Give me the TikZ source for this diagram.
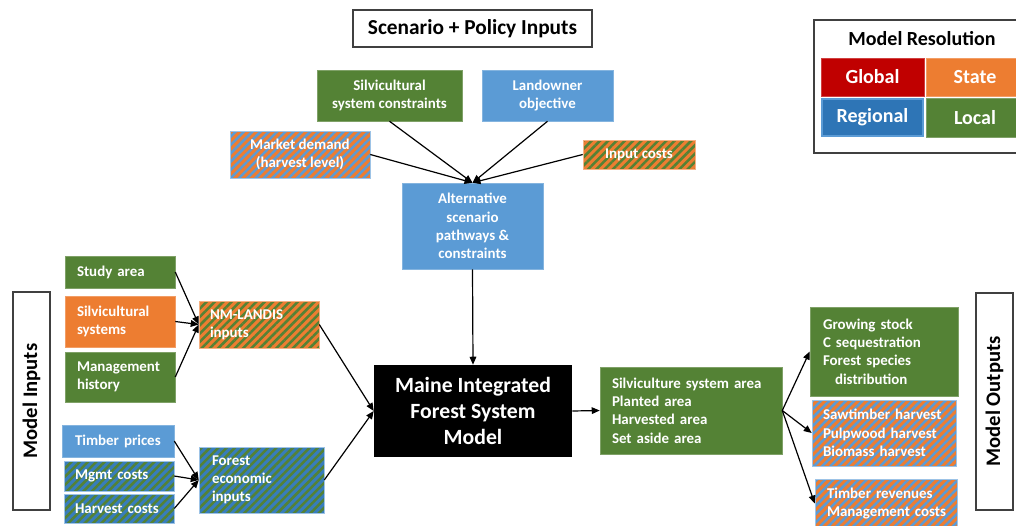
\documentclass[tikz,border=0pt]{standalone}
\usepackage{fontspec}
\setmainfont{Carlito}
\usetikzlibrary{arrows.meta,patterns.meta}
\definecolor{cgreen}{HTML}{548235}
\definecolor{clblue}{HTML}{5B9BD5}
\definecolor{cblue}{HTML}{2E75B6}
\definecolor{corange}{HTML}{ED7D31}
\definecolor{cred}{HTML}{C00000}
\definecolor{cgray}{HTML}{404040}
\newcommand\bx[7]{\node[#6, minimum width={(#4-#2)*0.75pt}, minimum height={(#5-#3)*0.75pt}] (#1) at ({(#2+#4)/2},{(#3+#5)/2}) {#7};}
\tikzset{
  box/.style={inner sep=0pt, text=white, font=\bfseries\fontsize{11.2}{13.7}\selectfont, align=center},
  gbox/.style={box, fill=cgreen, draw=cgreen!75!white, line width=0.4pt},
  lbbox/.style={box, fill=clblue, draw=clblue!75!white, line width=0.4pt},
  obox/.style={box, fill=corange, draw=corange!75!white, line width=0.4pt},
  stripes/.style={pattern={Lines[angle=45,distance=4.4pt,line width=1.9pt]}},
  obstripe/.style={box, preaction={fill=corange}, stripes, pattern color=clblue, draw=clblue!60!white, line width=0.4pt},
  ogstripe/.style={box, preaction={fill=corange}, stripes, pattern color=cgreen, draw=corange!60!white, line width=0.4pt},
  bgstripe/.style={box, preaction={fill=cblue!80!clblue}, stripes, pattern color=cgreen, draw=clblue!60!white, line width=0.4pt},
  leftt/.style={align=left, text width=#1},
  framebox/.style={inner sep=0pt, draw=cgray, line width=1pt, fill=white, font=\bfseries\fontsize{16}{19}\selectfont},
  resbox/.style={inner sep=0pt, text=white, font=\bfseries\fontsize{15}{18}\selectfont},
  arr/.style={-{Triangle[length=6pt,width=5pt]}, line width=0.9pt, black},
}
\begin{document}
\begin{tikzpicture}[x=0.75pt,y=-0.75pt]
\useasboundingbox (0,0) rectangle (1016,525);
\clip (0,0) rectangle (1016,525);
% headers
\bx{scen}{353}{10}{592}{47}{framebox}{Scenario + Policy Inputs}
\bx{mi}{13}{292}{50}{510}{framebox}{}
\node[rotate=90, font=\bfseries\fontsize{15.5}{18}\selectfont] (mitext) at (mi) {Model Inputs};
\bx{mo}{976}{293}{1013}{510}{framebox}{}
\node[rotate=90, font=\bfseries\fontsize{15.5}{18}\selectfont] (motext) at (mo) {Model Outputs};
% resolution legend
\bx{res}{814}{20}{1030}{153}{framebox}{}
\node[font=\bfseries\fontsize{15}{18}\selectfont] (restitle) at (922,39) {Model Resolution};
\bx{glob}{821}{58}{924}{96}{resbox, fill=cred, draw=cred!75!white, line width=0.4pt}{Global}
\bx{state}{926}{58}{1024}{96}{resbox, fill=corange, draw=corange!75!white, line width=0.4pt}{State}
\bx{reg}{822}{99}{923}{136}{resbox, fill=cblue, draw=clblue, line width=1.2pt}{Regional}
\bx{loc}{926}{98}{1024}{137}{resbox, fill=cgreen, draw=cgreen!75!white, line width=0.4pt}{Local}
% scenario inputs
\bx{silv}{317}{70}{462}{121}{gbox}{Silvicultural\\system constraints}
\bx{land}{482}{70}{613}{121}{lbbox}{Landowner\\objective}
\bx{mkt}{230}{131}{370}{178}{obstripe}{Market demand\\(harvest level)}
\bx{inp}{583}{140}{695}{169}{ogstripe}{Input costs}
\bx{alt}{402}{183}{543}{269}{lbbox}{Alternative\\scenario\\pathways \&\\constraints}
% model inputs
\bx{study}{65}{256}{175}{288}{gbox, leftt=64.5pt, inner xsep=9pt}{Study area}
\bx{sys}{65}{296}{175}{347}{obox, leftt=64.5pt, inner xsep=9pt}{Silvicultural\\systems}
\bx{hist}{65}{352}{175}{402}{gbox, leftt=64.5pt, inner xsep=9pt}{Management\\history}
\bx{nm}{199}{301}{319}{348}{ogstripe, leftt=73.5pt, inner xsep=8.25pt}{NM-LANDIS\\inputs}
\bx{tp}{62}{425}{174}{457}{lbbox, leftt=64.5pt, inner xsep=9.75pt}{Timber prices}
\bx{mg}{64}{461}{174}{491}{bgstripe, leftt=66pt, inner xsep=8.25pt}{Mgmt costs}
\bx{hv}{64}{494}{174}{523}{bgstripe, leftt=66pt, inner xsep=8.25pt}{Harvest costs}
\bx{fe}{199}{447}{324}{513}{bgstripe, leftt=74.25pt, inner xsep=9.75pt}{Forest\\economic\\inputs}
% model
\bx{mod}{374}{365}{572}{457}{box, fill=black, font=\bfseries\fontsize{16.3}{19.5}\selectfont}{Maine Integrated\\Forest System\\Model}
% outputs
\bx{sa}{600}{367}{782}{454}{gbox, leftt=118.5pt, inner xsep=9pt}{Silviculture system area\\Planted area\\Harvested area\\Set aside area}
\bx{gs}{810}{307}{958}{396}{gbox, leftt=91.5pt, inner xsep=9.75pt}{Growing stock\\C sequestration\\Forest species\\\hspace*{9pt}distribution}
\bx{saw}{812}{400}{956}{466}{obstripe, leftt=91.5pt, inner xsep=8.25pt}{\mbox{Sawtimber harvest}\\\mbox{Pulpwood harvest}\\\mbox{Biomass harvest}}
\bx{tr}{815}{479}{957}{528}{obstripe, leftt=88.5pt, inner xsep=9pt}{\mbox{Timber revenues}\\\mbox{Management costs}}
% connectors
\draw[arr] (silv.south) -- (alt.north);
\draw[arr] (land.south) -- (alt.north);
\draw[arr] (mkt.east) -- (alt.north);
\draw[arr] (inp.west) -- (alt.north);
\draw[arr] (alt.south) -- (mod.north);
\draw[arr] (study.east) -- (nm.west);
\draw[arr] (sys.east) -- (nm.west);
\draw[arr] (hist.east) -- (nm.west);
\draw[arr] (tp.east) -- (fe.west);
\draw[arr] (mg.east) -- (fe.west);
\draw[arr] (hv.east) -- (fe.west);
\draw[arr] (nm.east) -- (mod.west);
\draw[arr] (fe.east) -- (mod.west);
\draw[arr] (mod.east) -- (sa.west);
\draw[arr] (sa.east) -- (gs.west);
\draw[arr] (sa.east) -- (saw.west);
\draw[arr] (sa.east) -- (tr.west);
\end{tikzpicture}
\end{document}
